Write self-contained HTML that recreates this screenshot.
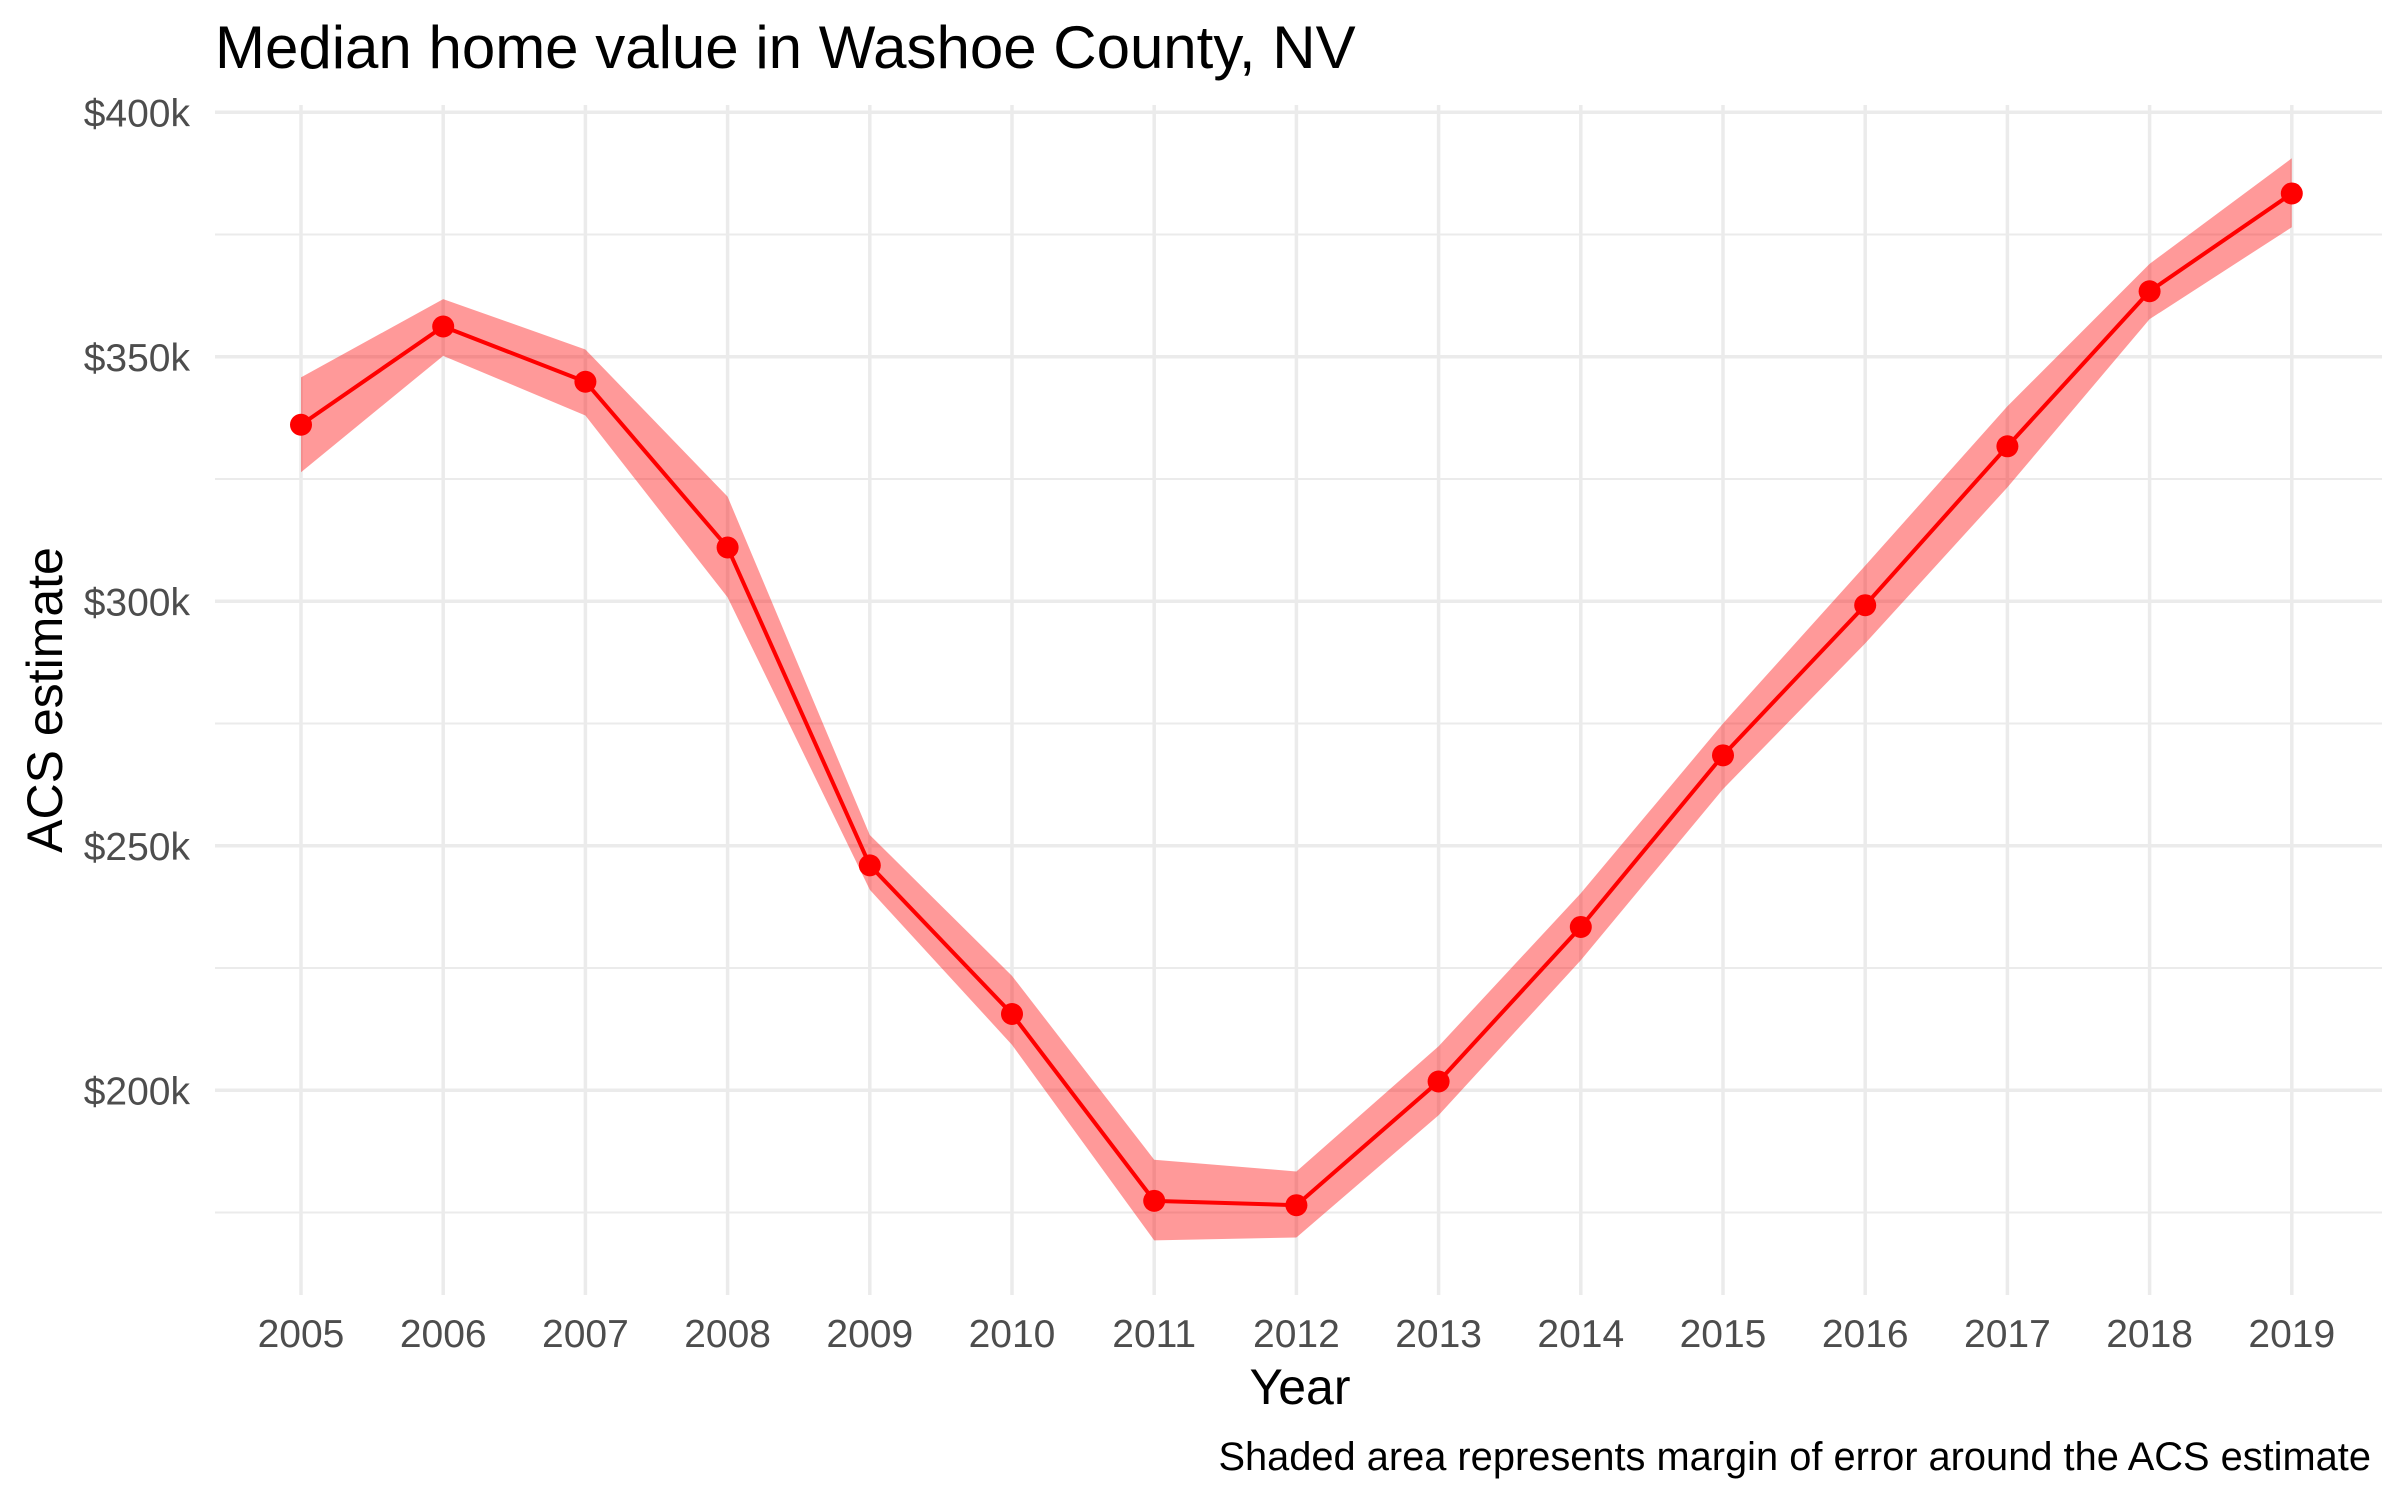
<!DOCTYPE html>
<html><head><meta charset="utf-8"><style>
html,body{margin:0;padding:0;background:#fff;}
svg{display:block;font-family:"Liberation Sans",Arial,sans-serif;}
</style></head><body>
<svg id="chart" width="2400" height="1500" viewBox="0 0 2400 1500">
<text x="215" y="68" font-size="60" fill="#000">Median home value in Washoe County, NV</text>
<g id="grid"></g>
<g id="ticks"></g>
<g id="marks"></g>
<text x="1300" y="1404" font-size="50" text-anchor="middle" fill="#000">Year</text>
<text transform="translate(62,700) rotate(-90)" font-size="50" text-anchor="middle" fill="#000">ACS estimate</text>
<text x="2371" y="1470" font-size="39.8" text-anchor="end" fill="#000">Shaded area represents margin of error around the ACS estimate</text>
</svg>
<script>
const years = [2005,2006,2007,2008,2009,2010,2011,2012,2013,2014,2015,2016,2017,2018,2019];
const estimate = [336.1,356.2,344.9,311,246,215.6,177.4,176.5,201.8,233.4,268.5,299.2,331.7,363.4,383.4];
const upper = [345.8,361.8,351.5,321.4,252.2,223.4,185.8,183.4,209,240.3,275,307.3,339.9,369,390.6];
const lower = [326.4,350.2,338,300.8,241,209.3,169.3,169.9,194.9,226.6,261.6,291.4,323.3,357.7,376.5];
const yTicks = [200,250,300,350,400];
const yMinor = [175,225,275,325,375];
const yTickLabels = ["$200k","$250k","$300k","$350k","$400k"];

const NS="http://www.w3.org/2000/svg";
const xS = y => 301 + (y-2005)*142.2;
const yS = v => 112.3 + (400-v)*4.89;
const PL=215, PR=2382, PT=105, PB=1295;
function mk(tag, attrs, parent){const e=document.createElementNS(NS,tag);for(const k in attrs)e.setAttribute(k,attrs[k]);parent.appendChild(e);return e;}
const grid=document.getElementById('grid'), ticks=document.getElementById('ticks'), marks=document.getElementById('marks');
yMinor.forEach(v=>{const l=mk('line',{x1:PL,x2:PR,y1:yS(v),y2:yS(v),stroke:'#ebebeb','stroke-width':2},grid);

});
yTicks.forEach((v,i)=>{const l=mk('line',{x1:PL,x2:PR,y1:yS(v),y2:yS(v),stroke:'#ebebeb','stroke-width':3.5},grid);


const t=mk('text',{x:190,y:yS(v)+14,'font-size':39,'text-anchor':'end',fill:'#4d4d4d'},ticks);t.textContent=yTickLabels[i];

});
years.forEach(yr=>{const l=mk('line',{x1:xS(yr),x2:xS(yr),y1:PT,y2:PB,stroke:'#ebebeb','stroke-width':3.5},grid);


const t=mk('text',{x:xS(yr),y:1347,'font-size':39,'text-anchor':'middle',fill:'#4d4d4d'},ticks);t.textContent=yr;

});
let d=years.map((yr,i)=>(i?'L':'M')+xS(yr)+','+yS(upper[i])).join(' ');
for(let i=years.length-1;i>=0;i--)d+=' L'+xS(years[i])+','+yS(lower[i]);
const band=mk('path',{d:d+' Z',fill:'#ff0000','fill-opacity':0.4},marks);


const line=mk('polyline',{points:years.map((yr,i)=>xS(yr)+','+yS(estimate[i])).join(' '),fill:'none',stroke:'#ff0000','stroke-width':4,'stroke-linejoin':'round'},marks);


years.forEach((yr,i)=>{const c=mk('circle',{cx:xS(yr),cy:yS(estimate[i]),r:11,fill:'#ff0000'},marks);

});
</script>
</body></html>
